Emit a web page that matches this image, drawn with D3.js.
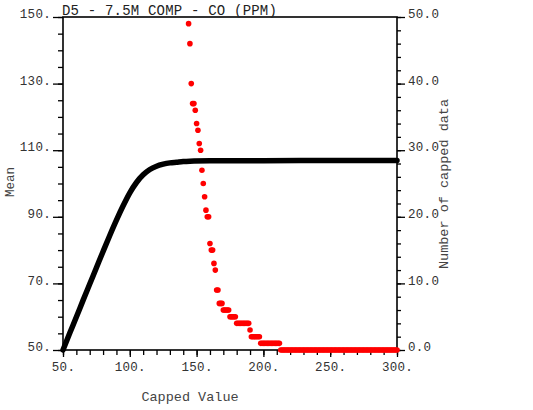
<!DOCTYPE html>
<html><head><meta charset="utf-8">
<script src="https://cdn.jsdelivr.net/npm/d3@7"></script>
<style>
html,body{margin:0;padding:0;background:#fff;}
svg{display:block;}
text{font-family:"Liberation Mono","DejaVu Sans Mono",monospace;}
</style></head>
<body>
<script>
// ---- data ----
const titleText = "D5 - 7.5M COMP - CO (PPM)";
const xTicks = [50, 100, 150, 200, 250, 300];
const leftTicks = [50, 70, 90, 110, 130, 150];
const rightTicks = [0, 10, 20, 30, 40, 50];
// mean of capped data vs capped value
const meanCaps = [50, 55, 60, 65, 70, 75, 80, 85, 90, 95, 100, 105, 110, 115, 120, 125, 130, 135, 140, 145, 160, 200, 250, 300];
const meanVals = [50.0, 55.0, 59.9, 64.9, 69.8, 74.7, 79.6, 84.4, 89.0, 93.3, 97.2, 100.3, 102.6, 104.2, 105.2, 105.8, 106.2, 106.4, 106.6, 106.7, 106.8, 106.85, 106.9, 106.9];
// number of capped data: runs of [first cap, last cap, count]
const countRunStart = [144, 145, 146, 147, 149, 150, 151, 152, 153, 154, 155, 156, 157, 158, 160, 161, 163, 164, 165, 167, 170, 175, 180, 190, 191, 198, 213];
const countRunEnd   = [144, 145, 146, 148, 149, 150, 151, 152, 153, 154, 155, 156, 157, 159, 160, 162, 163, 164, 166, 169, 174, 179, 189, 190, 197, 212, 300];
const countRunVal   = [49, 46, 40, 37, 36, 34, 33, 31, 30, 27, 25, 23, 21, 20, 16, 15, 13, 12, 9, 7, 6, 5, 4, 3, 2, 1, 0];

const W = 533, H = 410;
const svg = d3.select("body").append("svg").attr("width", W).attr("height", H);

const x = d3.scaleLinear().domain([50, 300]).range([63, 397]);
const yL = d3.scaleLinear().domain([50, 150]).range([350, 17]);
const yR = d3.scaleLinear().domain([0, 50]).range([350, 17]);

// frame
svg.append("rect").attr("x", 63).attr("y", 17).attr("width", 334).attr("height", 333)
  .attr("fill", "none").attr("stroke", "#000").attr("stroke-width", 1.6);

function styleAxis(g){
  g.select(".domain").remove();
  g.selectAll(".tick line").attr("stroke", "#000").attr("stroke-width", 1.3);
  g.selectAll("text").attr("fill", "#333").style("font-size", "12.5px").attr("letter-spacing", "0.3px");
}

// left axis
const minorL = d3.range(50, 150.1, 5);
svg.append("g").attr("transform", "translate(63,0)")
  .call(d3.axisLeft(yL).tickValues(minorL).tickSize(5).tickFormat("")).call(styleAxis);
const gL = svg.append("g").attr("transform", "translate(63,0)")
  .call(d3.axisLeft(yL).tickValues(leftTicks).tickSize(10).tickPadding(2).tickFormat(d => d + ".")).call(styleAxis);
gL.selectAll("text").attr("dy", "0.05em");

// right axis
const minorR = d3.range(0, 50.1, 2);
svg.append("g").attr("transform", "translate(397,0)")
  .call(d3.axisRight(yR).tickValues(minorR).tickSize(4).tickFormat("")).call(styleAxis);
const gR = svg.append("g").attr("transform", "translate(397,0)")
  .call(d3.axisRight(yR).tickValues(rightTicks).tickSize(8).tickPadding(3).tickFormat(d3.format(".1f"))).call(styleAxis);
gR.selectAll("text").attr("dy", "0.05em");

// bottom axis
const minorX = d3.range(50, 300.1, 10);
svg.append("g").attr("transform", "translate(0,350)")
  .call(d3.axisBottom(x).tickValues(minorX).tickSize(5).tickFormat("")).call(styleAxis);
const gB = svg.append("g").attr("transform", "translate(0,350)")
  .call(d3.axisBottom(x).tickValues(xTicks).tickSize(7).tickFormat(d => d + ".")).call(styleAxis);
gB.selectAll("text").attr("y", 21).attr("dy", "0");

// title
svg.append("text").attr("x", 62).attr("y", 15).attr("fill", "#222")
  .style("font-size", "14px").attr("letter-spacing", "0.2px").text(titleText);

// axis titles
svg.append("text").attr("x", 190).attr("y", 401).attr("text-anchor", "middle").attr("fill", "#444")
  .style("font-size", "13.5px").text("Capped Value");
svg.append("text").attr("transform", "translate(14,182) rotate(-90)").attr("text-anchor", "middle").attr("fill", "#444")
  .style("font-size", "12.5px").text("Mean");
svg.append("text").attr("transform", "translate(448,184) rotate(-90)").attr("text-anchor", "middle").attr("fill", "#444")
  .style("font-size", "13.5px").text("Number of capped data");

// mean curve
const meanData = meanCaps.map((c, i) => [c, meanVals[i]]);
svg.append("path").datum(meanData)
  .attr("d", d3.line().x(d => x(d[0])).y(d => yL(d[1])).curve(d3.curveMonotoneX))
  .attr("fill", "none").attr("stroke", "#000").attr("stroke-width", 5.5)
  .attr("stroke-linecap", "round").attr("stroke-linejoin", "round");

// capped count points
const countData = [];
countRunStart.forEach((s, i) => {
  for (let c = s; c <= countRunEnd[i]; c++) countData.push([c, countRunVal[i]]);
});
svg.append("g").selectAll("circle").data(countData).join("circle")
  .attr("cx", d => x(d[0])).attr("cy", d => yR(d[1])).attr("r", 2.8).attr("fill", "#ff0000");
</script>
</body></html>
